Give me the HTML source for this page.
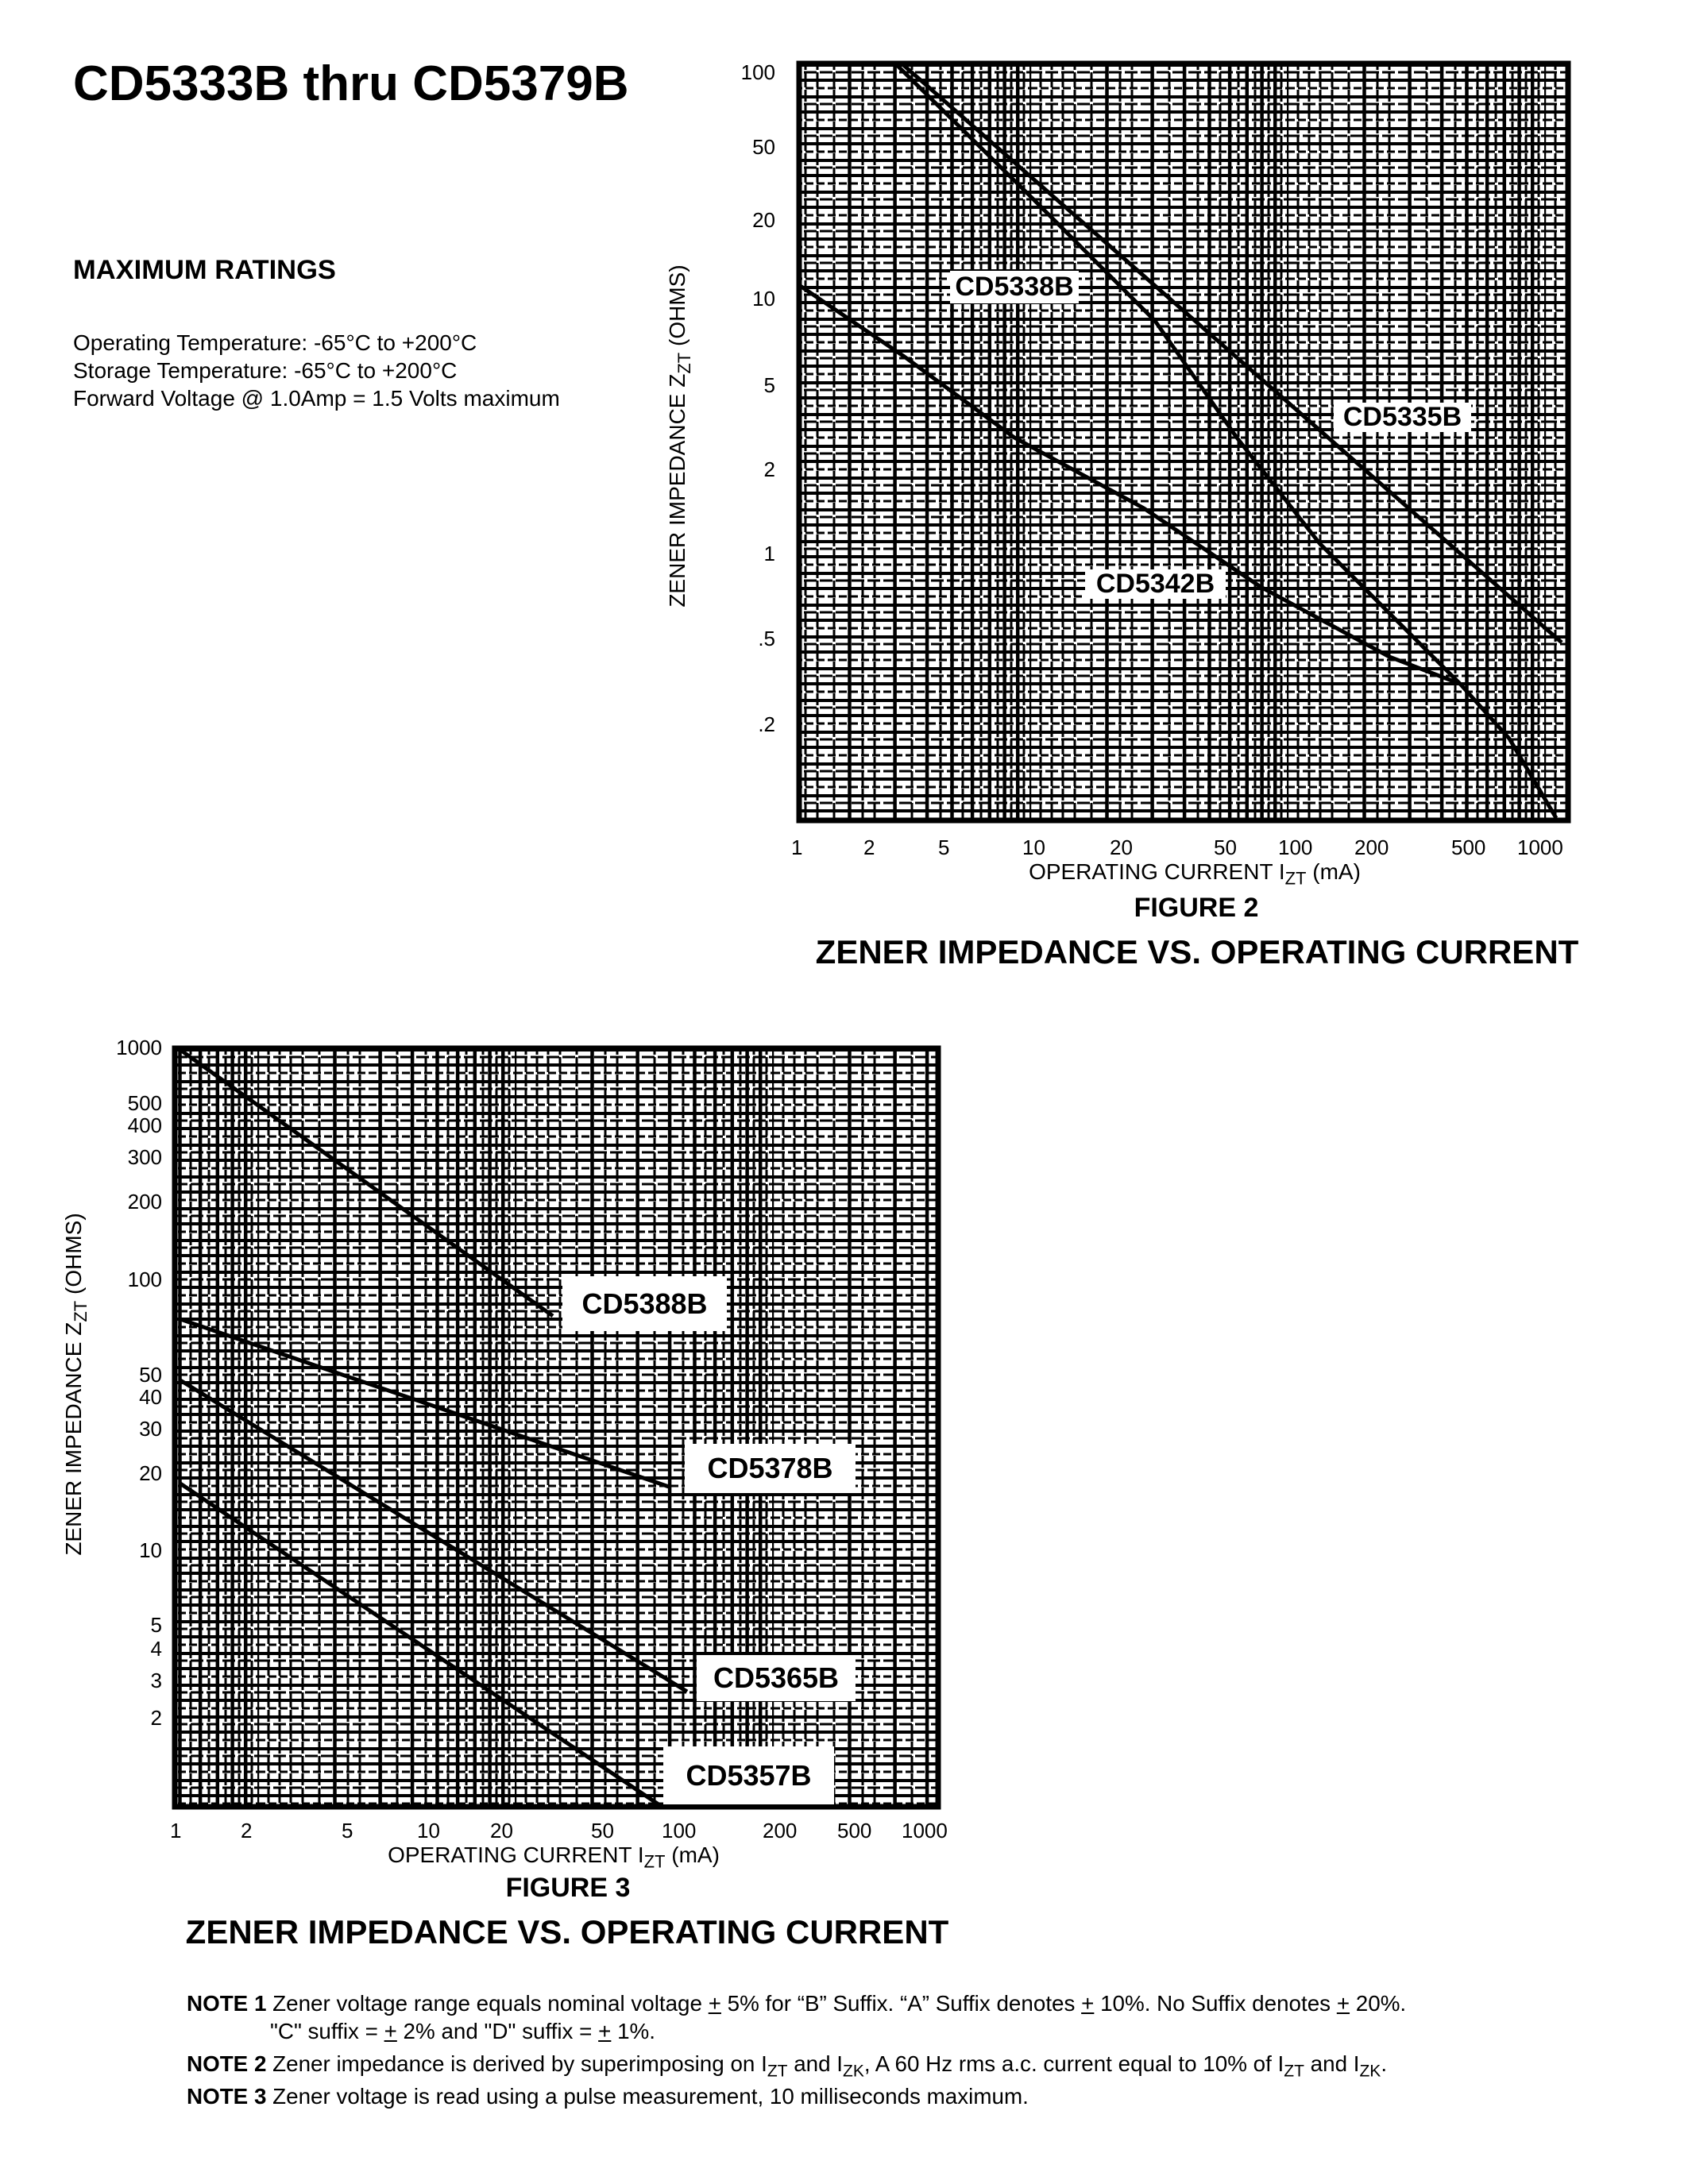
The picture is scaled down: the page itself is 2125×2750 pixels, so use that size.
<!DOCTYPE html>
<html><head><meta charset="utf-8">
<style>
body{margin:0;background:#fff;}
#p{position:relative;width:2125px;height:2750px;overflow:hidden;background:#fff;font-family:"Liberation Sans",Arial,sans-serif;color:#000;}
.t{position:absolute;white-space:nowrap;}
</style></head><body><div id="p">
<svg width="2125" height="2750" style="position:absolute;left:0;top:0" xmlns="http://www.w3.org/2000/svg">
<defs>
<pattern id="v" width="324" height="40" patternUnits="userSpaceOnUse">
 <g stroke="#000" stroke-width="4.5">
  <line x1="0" y1="0" x2="0" y2="40"/><line x1="97.5" y1="0" x2="97.5" y2="40"/><line x1="154.6" y1="0" x2="154.6" y2="40"/><line x1="195.1" y1="0" x2="195.1" y2="40"/><line x1="226.5" y1="0" x2="226.5" y2="40"/><line x1="252.1" y1="0" x2="252.1" y2="40"/><line x1="273.8" y1="0" x2="273.8" y2="40"/><line x1="292.6" y1="0" x2="292.6" y2="40"/><line x1="309.2" y1="0" x2="309.2" y2="40"/>
 </g>
 <g stroke="#000" stroke-width="3" stroke-dasharray="8 3">
  <line x1="57" y1="0" x2="57" y2="40"/><line x1="129" y1="0" x2="129" y2="40"/><line x1="176" y1="0" x2="176" y2="40"/><line x1="212" y1="0" x2="212" y2="40"/><line x1="240" y1="0" x2="240" y2="40"/><line x1="263" y1="0" x2="263" y2="40"/><line x1="284" y1="0" x2="284" y2="40"/><line x1="301" y1="0" x2="301" y2="40"/><line x1="317" y1="0" x2="317" y2="40"/>
  <line x1="28" y1="0" x2="28" y2="40"/><line x1="78" y1="0" x2="78" y2="40"/><line x1="114" y1="0" x2="114" y2="40"/><line x1="42" y1="0" x2="42" y2="40"/><line x1="14" y1="0" x2="14" y2="40"/>
 </g>
 <g stroke="#000">
  <line x1="0" y1="2" x2="324" y2="2" stroke-width="4"/>
  <line x1="0" y1="11" x2="324" y2="11" stroke-width="3" stroke-dasharray="16 4"/>
  <line x1="0" y1="21" x2="324" y2="21" stroke-width="4"/>
  <line x1="0" y1="31" x2="324" y2="31" stroke-width="3" stroke-dasharray="10 4"/>
 </g>
</pattern>
</defs>
<!-- Figure 2 -->
<rect x="1004" y="78" width="972" height="957" fill="url(#v)"/>
<rect x="1006" y="80" width="968" height="953" fill="none" stroke="#000" stroke-width="7"/>
<g fill="none" stroke="#000" stroke-width="5">
 <polyline points="1134,79 1966,809"/>
 <polyline points="1126,79 1300,250 1454,404 1557,551 1661,684 1838,861 1900,930 1959,1030"/>
 <polyline points="1006,359 1137,448 1277,551 1440,640 1587,739 1749,827 1838,861"/>
</g>
<!-- Figure 3 -->
<rect x="218" y="1318" width="965" height="959" fill="url(#v)"/>
<rect x="220" y="1320" width="961" height="955" fill="none" stroke="#000" stroke-width="7"/>
<g fill="none" stroke="#000" stroke-width="5">
 <polyline points="227,1322 696,1657"/>
 <polyline points="227,1661 842,1872"/>
 <polyline points="227,1738 865,2130"/>
 <polyline points="227,1868 835,2276"/>
</g>
</svg>

<div class="t" style="left:92px;top:70px;font-size:62px;font-weight:bold;">CD5333B thru CD5379B</div>
<div class="t" style="left:92px;top:321px;font-size:34.5px;font-weight:bold;">MAXIMUM RATINGS</div>
<div class="t" style="left:92px;top:414px;font-size:28px;line-height:35px;">Operating Temperature: -65°C to +200°C<br>Storage Temperature: -65°C to +200°C<br>Forward Voltage @ 1.0Amp = 1.5 Volts maximum</div>

<!-- Fig2 labels -->
<div class="t" style="left:1196px;top:341px;width:162px;height:41px;background:#fff;font-size:34px;font-weight:bold;text-align:center;line-height:41px;">CD5338B</div>
<div class="t" style="left:1679px;top:507px;width:173px;height:37px;background:#fff;font-size:34px;font-weight:bold;text-align:center;line-height:37px;">CD5335B</div>
<div class="t" style="left:1366px;top:717px;width:177px;height:37px;background:#fff;font-size:34px;font-weight:bold;text-align:center;line-height:37px;">CD5342B</div>

<div style="position:absolute;left:900px;top:0;width:76px;font-size:26px;text-align:right;">
<div class="t" style="right:0;top:76px">100</div><div class="t" style="right:0;top:170px">50</div><div class="t" style="right:0;top:262px">20</div><div class="t" style="right:0;top:361px">10</div><div class="t" style="right:0;top:470px">5</div><div class="t" style="right:0;top:576px">2</div><div class="t" style="right:0;top:682px">1</div><div class="t" style="right:0;top:789px">.5</div><div class="t" style="right:0;top:897px">.2</div>
</div>
<div style="position:absolute;left:0;top:1052px;font-size:26px;">
<div class="t" style="left:996px">1</div><div class="t" style="left:1087px">2</div><div class="t" style="left:1181px">5</div><div class="t" style="left:1287px">10</div><div class="t" style="left:1397px">20</div><div class="t" style="left:1528px">50</div><div class="t" style="left:1609px">100</div><div class="t" style="left:1705px">200</div><div class="t" style="left:1827px">500</div><div class="t" style="left:1910px">1000</div>
</div>
<div class="t" style="left:1504px;top:1082px;transform:translateX(-50%);font-size:28px;">OPERATING CURRENT I<sub style="font-size:22px">ZT</sub> (mA)</div>
<div class="t" style="left:1506px;top:1124px;transform:translateX(-50%);font-size:34px;font-weight:bold;">FIGURE 2</div>
<div class="t" style="left:1507px;top:1175px;transform:translateX(-50%);font-size:42px;font-weight:bold;">ZENER IMPEDANCE VS. OPERATING CURRENT</div>
<div class="t" style="left:856px;top:549px;transform:translate(-50%,-50%) rotate(-90deg);font-size:28px;">ZENER IMPEDANCE Z<sub style="font-size:22px">ZT</sub> (OHMS)</div>

<!-- Fig3 labels -->
<div class="t" style="left:708px;top:1607px;width:207px;height:69px;background:#fff;font-size:36px;font-weight:bold;text-align:center;line-height:69px;">CD5388B</div>
<div class="t" style="left:862px;top:1818px;width:215px;height:62px;background:#fff;font-size:36px;font-weight:bold;text-align:center;line-height:62px;">CD5378B</div>
<div class="t" style="left:877px;top:2084px;width:200px;height:58px;background:#fff;font-size:36px;font-weight:bold;text-align:center;line-height:58px;">CD5365B</div>
<div class="t" style="left:835px;top:2199px;width:215px;height:73px;background:#fff;font-size:36px;font-weight:bold;text-align:center;line-height:73px;">CD5357B</div>

<div style="position:absolute;left:120px;top:0;width:84px;font-size:26px;">
<div class="t" style="right:0;top:1304px">1000</div><div class="t" style="right:0;top:1374px">500</div><div class="t" style="right:0;top:1402px">400</div><div class="t" style="right:0;top:1442px">300</div><div class="t" style="right:0;top:1498px">200</div><div class="t" style="right:0;top:1596px">100</div><div class="t" style="right:0;top:1716px">50</div><div class="t" style="right:0;top:1744px">40</div><div class="t" style="right:0;top:1784px">30</div><div class="t" style="right:0;top:1840px">20</div><div class="t" style="right:0;top:1937px">10</div><div class="t" style="right:0;top:2031px">5</div><div class="t" style="right:0;top:2061px">4</div><div class="t" style="right:0;top:2101px">3</div><div class="t" style="right:0;top:2148px">2</div>
</div>
<div style="position:absolute;left:0;top:2290px;font-size:26px;">
<div class="t" style="left:214px">1</div><div class="t" style="left:303px">2</div><div class="t" style="left:430px">5</div><div class="t" style="left:525px">10</div><div class="t" style="left:617px">20</div><div class="t" style="left:744px">50</div><div class="t" style="left:833px">100</div><div class="t" style="left:960px">200</div><div class="t" style="left:1054px">500</div><div class="t" style="left:1135px">1000</div>
</div>
<div class="t" style="left:697px;top:2320px;transform:translateX(-50%);font-size:28px;">OPERATING CURRENT I<sub style="font-size:22px">ZT</sub> (mA)</div>
<div class="t" style="left:715px;top:2358px;transform:translateX(-50%);font-size:34px;font-weight:bold;">FIGURE 3</div>
<div class="t" style="left:714px;top:2409px;transform:translateX(-50%);font-size:42px;font-weight:bold;">ZENER IMPEDANCE VS. OPERATING CURRENT</div>
<div class="t" style="left:96px;top:1743px;transform:translate(-50%,-50%) rotate(-90deg);font-size:28px;">ZENER IMPEDANCE Z<sub style="font-size:22px">ZT</sub> (OHMS)</div>

<!-- Notes -->
<div class="t" style="left:235px;top:2507px;font-size:27.8px;"><b>NOTE 1</b> Zener voltage range equals nominal voltage <u>+</u> 5% for “B” Suffix. “A” Suffix denotes <u>+</u> 10%. No Suffix denotes <u>+</u> 20%.</div>
<div class="t" style="left:340px;top:2542px;font-size:27.8px;">"C" suffix = <u>+</u> 2% and "D" suffix = <u>+</u> 1%.</div>
<div class="t" style="left:235px;top:2583px;font-size:27.8px;"><b>NOTE 2</b> Zener impedance is derived by superimposing on I<sub style="font-size:21px">ZT</sub> and I<sub style="font-size:21px">ZK</sub>, A 60 Hz rms a.c. current equal to 10% of I<sub style="font-size:21px">ZT</sub> and I<sub style="font-size:21px">ZK</sub>.</div>
<div class="t" style="left:235px;top:2624px;font-size:27.8px;"><b>NOTE 3</b> Zener voltage is read using a pulse measurement, 10 milliseconds maximum.</div>
</div></body></html>
